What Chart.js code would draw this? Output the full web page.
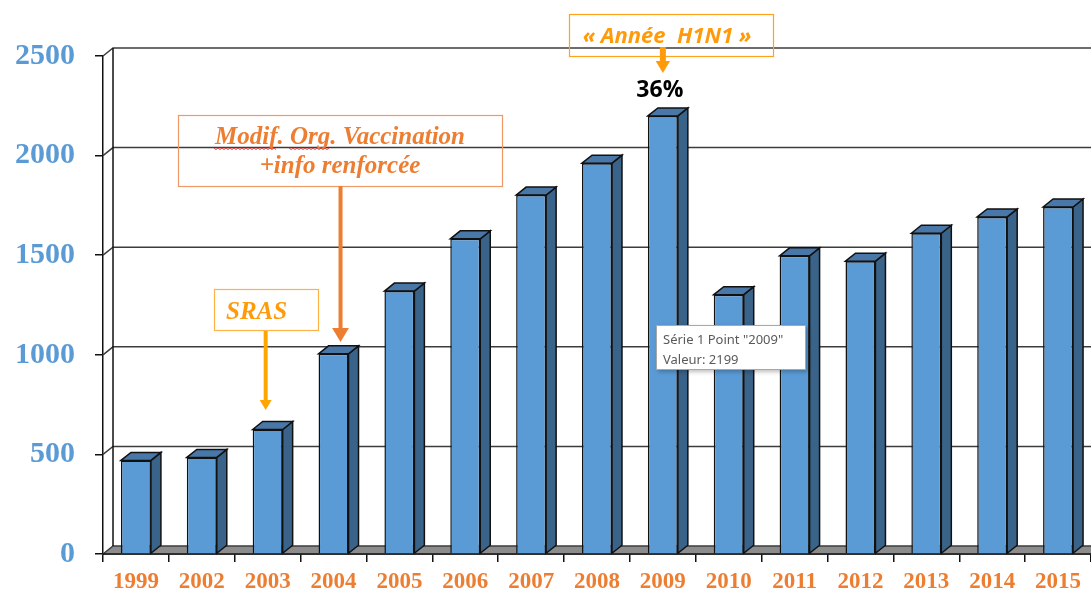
<!DOCTYPE html>
<html>
<head>
<meta charset="utf-8">
<script src="https://cdn.jsdelivr.net/npm/chart.js@4"></script>
<style>
  body { margin: 0; background: #fff; }
  canvas { display: block; }
</style>
</head>
<body>
<canvas id="graph" width="1091" height="592"></canvas>
<script>
// donnees
const annees = ["1999", "2002", "2003", "2004", "2005", "2006", "2007", "2008", "2009", "2010", "2011", "2012", "2013", "2014", "2015"];
const valeurs = [470, 485, 625, 1005, 1320, 1582, 1802, 1962, 2199, 1302, 1497, 1470, 1610, 1692, 1742];
const graduations = [0, 500, 1000, 1500, 2000, 2500];

const DX = 10, DY = 8;

function poly(ctx, pts, fill, stroke) {
  ctx.beginPath();
  ctx.moveTo(pts[0][0], pts[0][1]);
  for (let i = 1; i < pts.length; i++) ctx.lineTo(pts[i][0], pts[i][1]);
  ctx.closePath();
  if (fill) { ctx.fillStyle = fill; ctx.fill(); }
  if (stroke) { ctx.strokeStyle = stroke; ctx.lineWidth = 1.5; ctx.stroke(); }
}

function fleche(ctx, x, y1, y2, color, w, head) {
  ctx.save();
  ctx.strokeStyle = color;
  ctx.fillStyle = color;
  ctx.lineWidth = w;
  ctx.beginPath();
  ctx.moveTo(x, y1);
  ctx.lineTo(x, y2 - head);
  ctx.stroke();
  ctx.beginPath();
  ctx.moveTo(x - head * 0.6, y2 - head);
  ctx.lineTo(x + head * 0.6, y2 - head);
  ctx.lineTo(x, y2);
  ctx.closePath();
  ctx.fill();
  ctx.restore();
}

function cadre(ctx, x, y, w, h, color) {
  ctx.save();
  ctx.strokeStyle = color;
  ctx.lineWidth = 1.2;
  ctx.strokeRect(x + 0.5, y + 0.5, w, h);
  ctx.restore();
}

function vague(ctx, x1, x2, y) {
  ctx.save();
  ctx.strokeStyle = "#e03c3c";
  ctx.lineWidth = 1;
  ctx.beginPath();
  ctx.moveTo(x1, y);
  for (let x = x1, k = 0; x <= x2; x += 2, k++) ctx.lineTo(x, y + (k % 2 ? 1.5 : 0));
  ctx.stroke();
  ctx.restore();
}

const relief = {
  id: "relief",
  beforeDatasetsDraw(chart) {
    const { ctx, chartArea: a, scales: { y } } = chart;
    ctx.save();
    // sol
    poly(ctx, [[a.left, a.bottom], [a.left + DX, a.bottom - DY], [a.right + DX, a.bottom - DY], [a.right, a.bottom]], "#8c8c8c", null);
    // mur du fond
    ctx.strokeStyle = "#3c3c3c";
    ctx.lineWidth = 1.5;
    graduations.forEach(v => {
      const py = y.getPixelForValue(v);
      ctx.beginPath();
      ctx.moveTo(a.left, py);
      ctx.lineTo(a.left + DX, py - DY);
      ctx.lineTo(a.right + DX, py - DY);
      ctx.stroke();
    });
    ctx.strokeStyle = "#111";
    ctx.beginPath();
    ctx.moveTo(a.left + DX, y.getPixelForValue(graduations[graduations.length - 1]) - DY);
    ctx.lineTo(a.left + DX, a.bottom - DY);
    ctx.stroke();
    ctx.beginPath();
    ctx.moveTo(a.left, a.bottom);
    ctx.lineTo(a.right, a.bottom);
    ctx.stroke();
    ctx.restore();
  },
  afterDatasetsDraw(chart) {
    const ctx = chart.ctx;
    ctx.save();
    chart.getDatasetMeta(0).data.forEach(bar => {
      const { x, y, base, width } = bar.getProps(["x", "y", "base", "width"], true);
      const l = x - width / 2, r = x + width / 2;
      poly(ctx, [[r, y], [r + DX, y - DY], [r + DX, base - DY], [r, base]], "#3a6389", "#111");
      poly(ctx, [[l, y], [l + DX, y - DY], [r + DX, y - DY], [r, y]], "#4877a8", "#111");
    });
    ctx.restore();
  },
  afterDraw(chart) {
    const ctx = chart.ctx;
    const bars = chart.getDatasetMeta(0).data;
    const b2003 = bars[annees.indexOf("2003")];
    const b2004 = bars[annees.indexOf("2004")];
    const b2009 = bars[annees.indexOf("2009")];
    ctx.save();

    // H1N1
    cadre(ctx, 569, 14, 204, 42, "#ffa31a");
    ctx.fillStyle = "#ff9b0a";
    ctx.font = "italic bold 22px 'Open Sans'";
    ctx.textAlign = "center";
    ctx.textBaseline = "alphabetic";
    ctx.fillText("« Année  H1N1 »", 667, 43);
    fleche(ctx, b2009.x, 47, 73, "#ff9b0a", 6, 12);
    ctx.fillStyle = "#000";
    ctx.font = "bold 23px 'Open Sans'";
    ctx.fillText("36%", b2009.x - 3, 97);

    // Modif. Org. Vaccination
    cadre(ctx, 178, 115, 324, 71, "#ef9a66");
    ctx.fillStyle = "#ed7d31";
    ctx.font = "italic bold 25px 'Liberation Serif'";
    ctx.fillText("Modif. Org. Vaccination", 340, 144);
    ctx.fillText("+info renforcée", 340, 173);
    vague(ctx, 214, 276, 148);
    vague(ctx, 289, 330, 148);
    fleche(ctx, b2004.x + 7, 186, 342, "#ed7d31", 4, 14);

    // SRAS
    cadre(ctx, 214, 289, 104, 41, "#ffb347");
    ctx.fillStyle = "#ff9b0a";
    ctx.font = "italic bold 25px 'Liberation Serif'";
    ctx.textAlign = "left";
    ctx.fillText("SRAS", 226, 319);
    fleche(ctx, b2003.x - 2, 331, 410, "#ffa500", 4, 10);

    // info-bulle
    const i9 = annees.indexOf("2009");
    ctx.shadowColor = "rgba(0,0,0,0.25)";
    ctx.shadowBlur = 4;
    ctx.shadowOffsetX = 2;
    ctx.shadowOffsetY = 2;
    ctx.fillStyle = "#fff";
    ctx.fillRect(656, 325, 150, 45);
    ctx.shadowColor = "transparent";
    ctx.strokeStyle = "#a8a8a8";
    ctx.lineWidth = 1;
    ctx.strokeRect(656.5, 325.5, 149, 44);
    ctx.fillStyle = "#5a5a5a";
    ctx.font = "13px 'Noto Sans'";
    ctx.fillText('Série 1 Point "' + annees[i9] + '"', 663, 344);
    ctx.fillText("Valeur: " + valeurs[i9], 663, 364);
    ctx.restore();
  }
};

new Chart(document.getElementById("graph"), {
  type: "bar",
  data: {
    labels: annees,
    datasets: [{
      label: "Série 1",
      data: valeurs,
      backgroundColor: "#5b9bd5",
      borderColor: "#111",
      borderWidth: 1.5,
      barPercentage: 0.455,
      categoryPercentage: 1
    }]
  },
  options: {
    responsive: false,
    animation: false,
    layout: { padding: { top: 56, right: 0, left: 0, bottom: 0 } },
    plugins: { legend: { display: false }, tooltip: { enabled: false } },
    scales: {
      x: {
        grid: { drawOnChartArea: false, tickLength: 8, color: "#111", lineWidth: 1.5, offset: true },
        border: { color: "#111", width: 1.5 },
        ticks: { color: "#ed7d31", font: { family: "'Liberation Serif'", weight: "bold", size: 23 }, padding: 6, maxRotation: 0, autoSkip: false },
        afterFit(s) { s.height = 36; }
      },
      y: {
        min: 0,
        max: 2500,
        afterBuildTicks(s) { s.ticks = graduations.map(v => ({ value: v })); },
        grid: { drawOnChartArea: false, tickLength: 8, color: "#111", lineWidth: 1.5 },
        border: { color: "#111", width: 1.5 },
        ticks: { color: "#5b9bd5", font: { family: "'Liberation Serif'", weight: "bold", size: 30 }, padding: 20, callback: v => String(v) },
        afterFit(s) { s.width = 103; }
      }
    }
  },
  plugins: [relief]
});
</script>
</body>
</html>
